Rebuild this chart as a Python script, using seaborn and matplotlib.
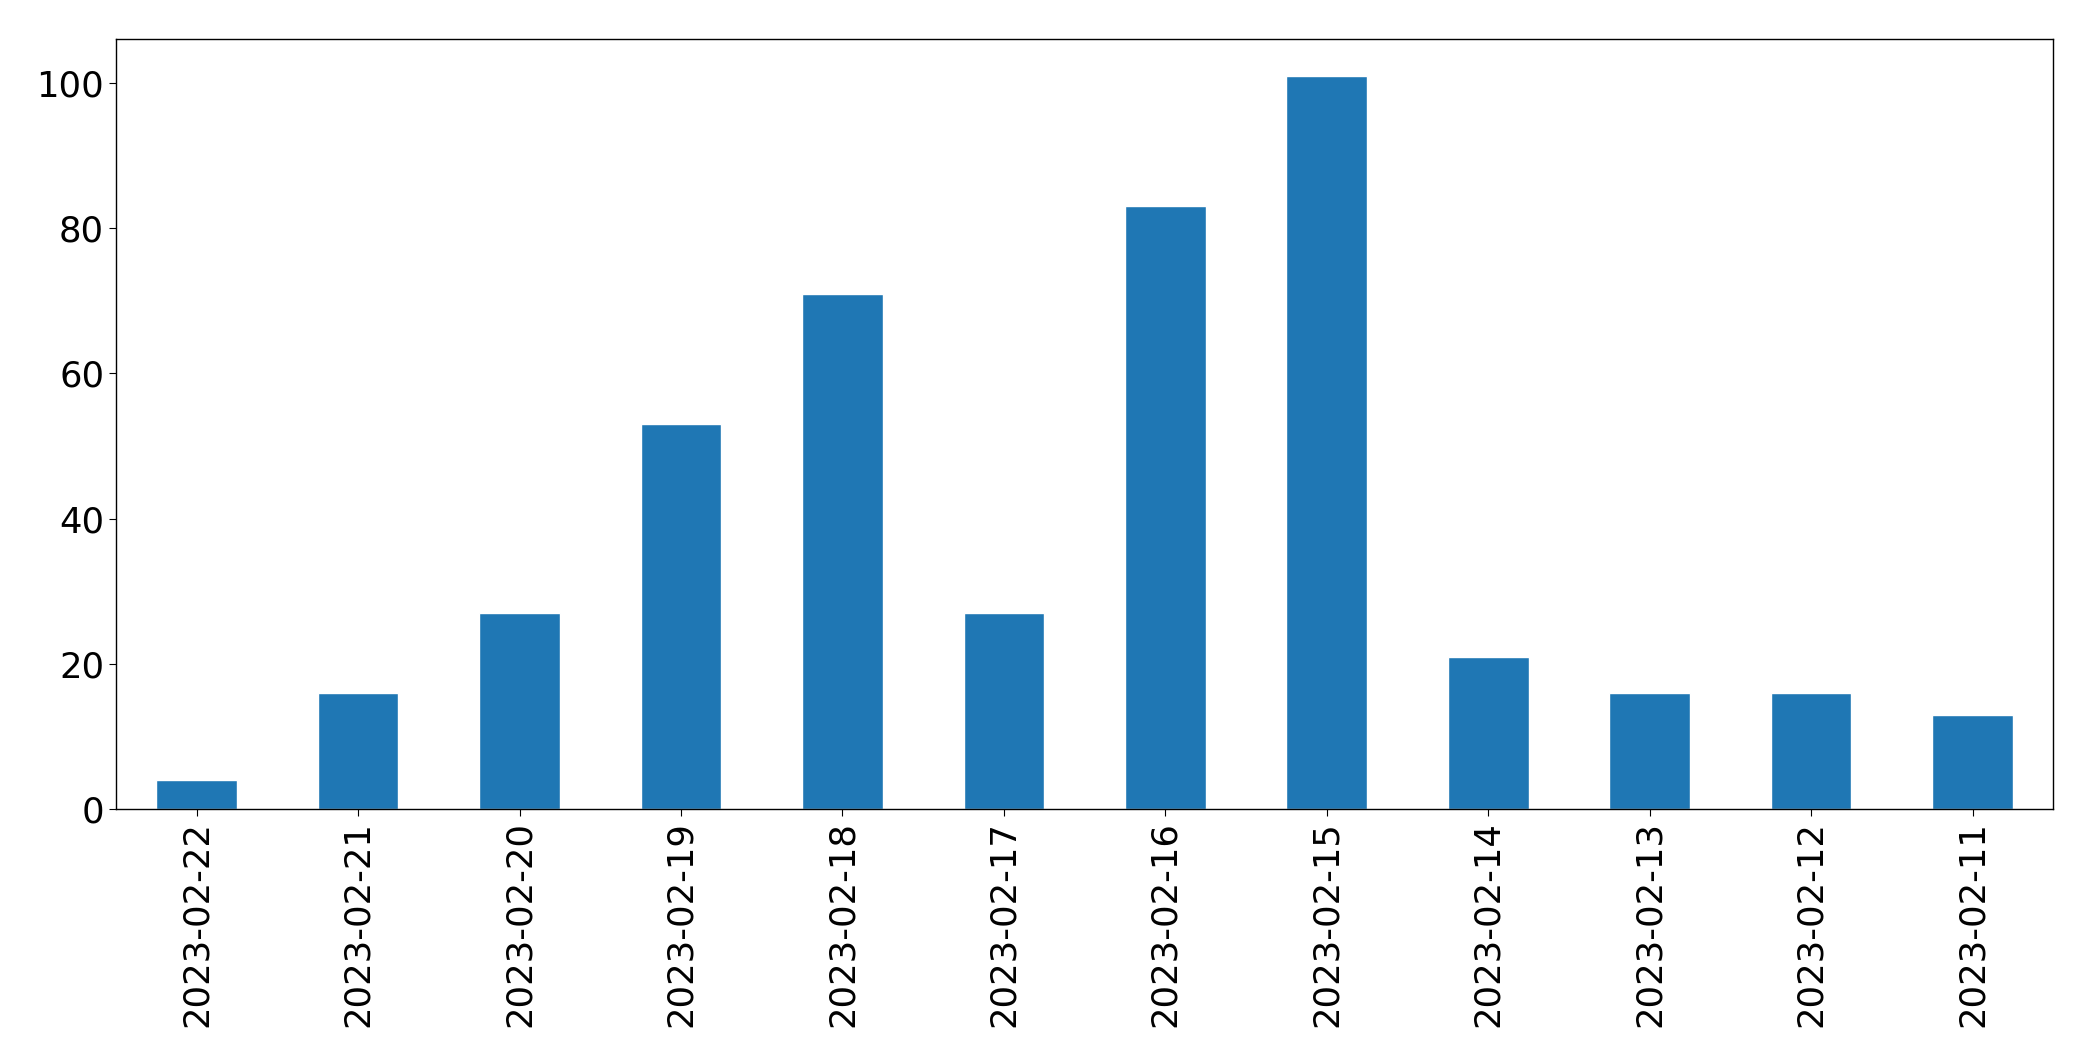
import matplotlib
matplotlib.use('Agg')
import matplotlib.pyplot as plt
import seaborn as sns
import pandas as pd

sns.set_style("ticks")
plt.rcParams['font.family'] = ['DejaVu Sans']
plt.rcParams['text.color'] = 'black'
plt.rcParams['xtick.color'] = 'black'
plt.rcParams['ytick.color'] = 'black'

dates = ['2023-02-22', '2023-02-21', '2023-02-20', '2023-02-19', '2023-02-18', '2023-02-17',
         '2023-02-16', '2023-02-15', '2023-02-14', '2023-02-13', '2023-02-12', '2023-02-11']
counts = [4, 16, 27, 53, 71, 27, 83, 101, 21, 16, 16, 13]

df = pd.DataFrame({'date': dates, 'count': counts})

fig, ax = plt.subplots(figsize=(20.93, 10.61), dpi=100)
sns.barplot(data=df, x='date', y='count', order=dates, color='#1f77b4',
            saturation=1, width=0.5, ax=ax)
ax.set_xlim(-0.5, len(dates) - 0.5)
ax.set_ylim(0, max(counts) * 1.05)
ax.set_xlabel('')
ax.set_ylabel('')
ax.tick_params(axis='both', labelsize=25.5, length=5, color='black', labelcolor='black')
ax.tick_params(axis='x', labelrotation=90)
for s in ax.spines.values():
    s.set_visible(True)
    s.set_color('black')
    s.set_linewidth(1)
plt.subplots_adjust(left=0.0554, right=0.981, top=0.9632, bottom=0.2375)
plt.savefig('out.png', dpi=100)
plt.close()
